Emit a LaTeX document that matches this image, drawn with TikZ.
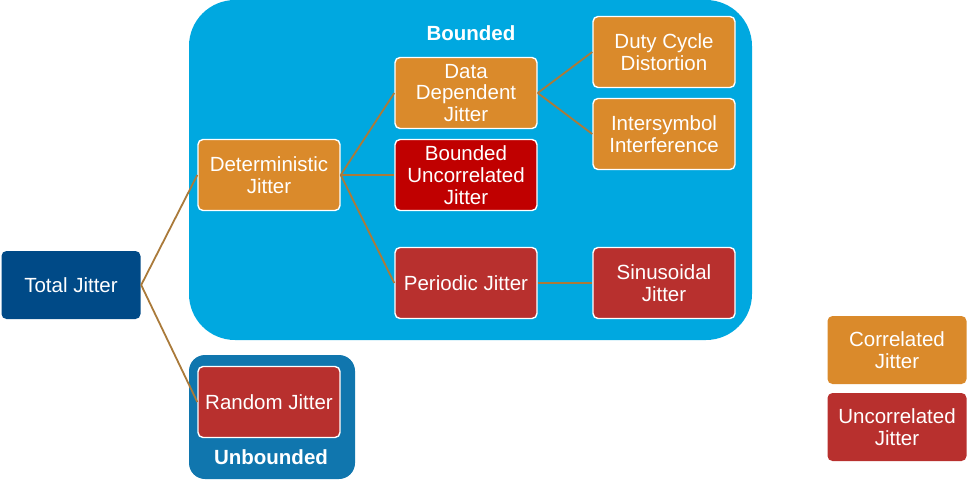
\documentclass[tikz,border=0pt]{standalone}
\usepackage{fontspec}
\setmainfont{Liberation Sans}
\usepackage{tikz}

\definecolor{tjblue}{RGB}{0,74,135}
\definecolor{boundcyan}{RGB}{0,168,224}
\definecolor{unbblue}{RGB}{16,118,174}
\definecolor{corrorange}{RGB}{218,138,43}
\definecolor{uncorred}{RGB}{184,48,46}
\definecolor{deepred}{RGB}{192,0,0}
\definecolor{linkbrown}{RGB}{170,122,58}

\begin{document}
\begin{tikzpicture}[
  x=1pt,
  y=-1pt,
  link/.style={draw=linkbrown, line width=1.8pt},
  region/.style={rounded corners=46pt, draw=none},
  tag/.style={text=white, font=\fontsize{20.5}{22}\selectfont\bfseries},
  jbox/.style={
    rounded corners=5pt,
    draw=white,
    line width=1.4pt,
    minimum width=142pt,
    minimum height=71pt,
    inner sep=1pt,
    align=center,
    text=white,
    font=\fontsize{20.5}{21.8}\selectfont
  },
  correlated/.style={jbox, fill=corrorange},
  uncorrelated/.style={jbox, fill=uncorred}
]

\useasboundingbox (0,0) rectangle (975,490);

% Background regions: bounded (cyan) and unbounded (dark blue).
\fill[region, fill=boundcyan] (189,0) rectangle (752,340);
\fill[region, fill=unbblue, rounded corners=16pt] (189,355) rectangle (355,479);

\node[tag] (bounded)   at (471,33)  {Bounded};
\node[tag] (unbounded) at (271,457) {Unbounded};

% Tree, left to right.
\node[jbox, fill=tjblue, draw=none, minimum width=139pt, minimum height=68pt] (total) at (71,285) {Total Jitter};

\node[correlated]   (det)  at (269,175) {Deterministic\\Jitter};
\node[uncorrelated] (rand) at (269,402) {Random Jitter};

\node[correlated]   (ddj)  at (466,93)  {Data\\Dependent\\Jitter};
\node[jbox, fill=deepred] (buj) at (466,175) {Bounded\\Uncorrelated\\Jitter};
\node[uncorrelated] (pj)   at (466,283) {Periodic Jitter};

\node[correlated]   (dcd)  at (664,52)  {Duty Cycle\\Distortion};
\node[correlated]   (isi)  at (664,134) {Intersymbol\\Interference};
\node[uncorrelated] (sj)   at (664,283) {Sinusoidal\\Jitter};

% Legend.
\node[correlated, draw=none, minimum width=139pt, minimum height=68pt]   (legcorr)   at (897,350) {Correlated\\Jitter};
\node[uncorrelated, draw=none, minimum width=139pt, minimum height=68pt] (leguncorr) at (897,427) {Uncorrelated\\Jitter};

\draw[link] (total.east) -- (det.west);
\draw[link] (total.east) -- (rand.west);
\draw[link] (det.east) -- (ddj.west);
\draw[link] (det.east) -- (buj.west);
\draw[link] (det.east) -- (pj.west);
\draw[link] (ddj.east) -- (dcd.west);
\draw[link] (ddj.east) -- (isi.west);
\draw[link] (pj.east) -- (sj.west);

\end{tikzpicture}
\end{document}
